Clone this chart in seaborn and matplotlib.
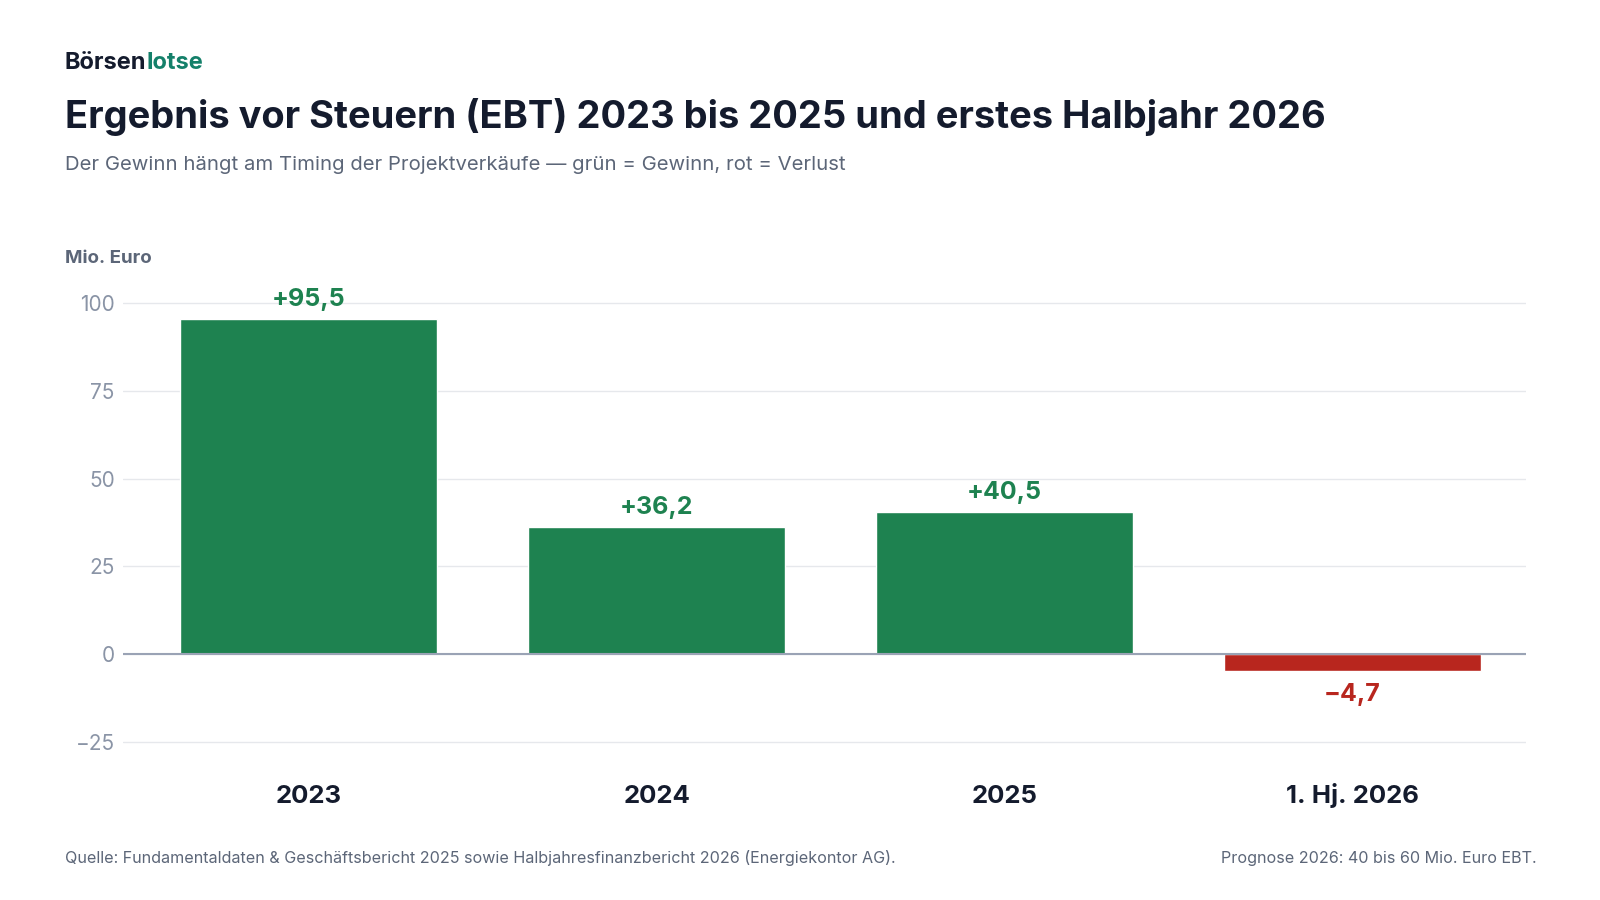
import matplotlib
matplotlib.use("Agg")
import matplotlib.pyplot as plt
import seaborn as sns
import pandas as pd

categories = ["2023", "2024", "2025", "1. Hj. 2026"]
values = [95.5, 36.2, 40.5, -4.7]
labels = ["+95,5", "+36,2", "+40,5", "\u22124,7"]
yticks = [-25, 0, 25, 50, 75, 100]
ytick_labels = ["\u221225", "0", "25", "50", "75", "100"]

sns.set_theme(style="white")
plt.rcParams['font.family'] = ['Inter', 'DejaVu Sans']

GREEN = "#1e8250"
RED = "#b8261e"
DARK = "#141b2d"
GRAY = "#5c6678"
TICK = "#8a94a6"

W, H = 1560, 877.5
def fx(x): return x / W
def fy(y): return 1 - y / H

df = pd.DataFrame({"cat": categories, "val": values})
colors = [GREEN if v >= 0 else RED for v in values]

fig = plt.figure(figsize=(16, 9), dpi=100)
ax = fig.add_axes([fx(120), 0.1445, fx(1488) - fx(120), 0.538])
sns.barplot(data=df, x="cat", y="val", hue="cat", palette=colors, legend=False,
            width=0.74, saturation=1, ax=ax, zorder=3)
ax.set_xlim(-0.534, 3.5)
ax.set_ylim(-33, 105)
ax.set_yticks(yticks)
ax.set_yticklabels(ytick_labels, color=TICK, fontsize=15)
ax.grid(axis="y", color="#e6e8ec", linewidth=1, zorder=0)
ax.axhline(0, color="#9aa3b5", linewidth=1.5, zorder=4)
for s in ax.spines.values():
    s.set_visible(False)
ax.tick_params(axis="both", length=0, pad=6)
ax.set_xlabel("")
ax.set_ylabel("")
ax.tick_params(axis="x", pad=24)
for t in ax.get_xticklabels():
    t.set_fontsize(18.5); t.set_fontweight("bold"); t.set_color(DARK)
    t.set_verticalalignment("baseline")

for i, (v, l) in enumerate(zip(values, labels)):
    c = GREEN if v >= 0 else RED
    if v >= 0:
        ax.text(i, v + 2.2, l, ha="center", va="bottom", fontsize=18, fontweight="bold", color=c)
    else:
        ax.text(i, v - 3.6, l, ha="center", va="top", fontsize=18, fontweight="bold", color=c)

b = fig.text(fx(63), fy(61), "Börsen", fontsize=17, fontweight="bold", color=DARK, va="center")
fig.canvas.draw()
ext = b.get_window_extent()
fig.text(ext.x1 / fig.bbox.width, fy(61), "lotse", fontsize=17, fontweight="bold", color="#14806a", va="center")
fig.text(fx(63), fy(114), "Ergebnis vor Steuern (EBT) 2023 bis 2025 und erstes Halbjahr 2026",
         fontsize=27.4, fontweight="bold", color=DARK, va="center")
fig.text(fx(63), fy(161), "Der Gewinn hängt am Timing der Projektverkäufe — grün = Gewinn, rot = Verlust",
         fontsize=14.6, color=GRAY, va="center")
fig.text(fx(63), fy(252), "Mio. Euro", fontsize=13.5, fontweight="bold", color=GRAY, va="center")
fig.text(fx(63), fy(837), "Quelle: Fundamentaldaten & Geschäftsbericht 2025 sowie Halbjahresfinanzbericht 2026 (Energiekontor AG).",
         fontsize=11.6, color=GRAY, va="center")
fig.text(fx(1498), fy(837), "Prognose 2026: 40 bis 60 Mio. Euro EBT.",
         fontsize=11.6, color=GRAY, va="center", ha="right")

fig.savefig("out.png", dpi=100, facecolor="white")
